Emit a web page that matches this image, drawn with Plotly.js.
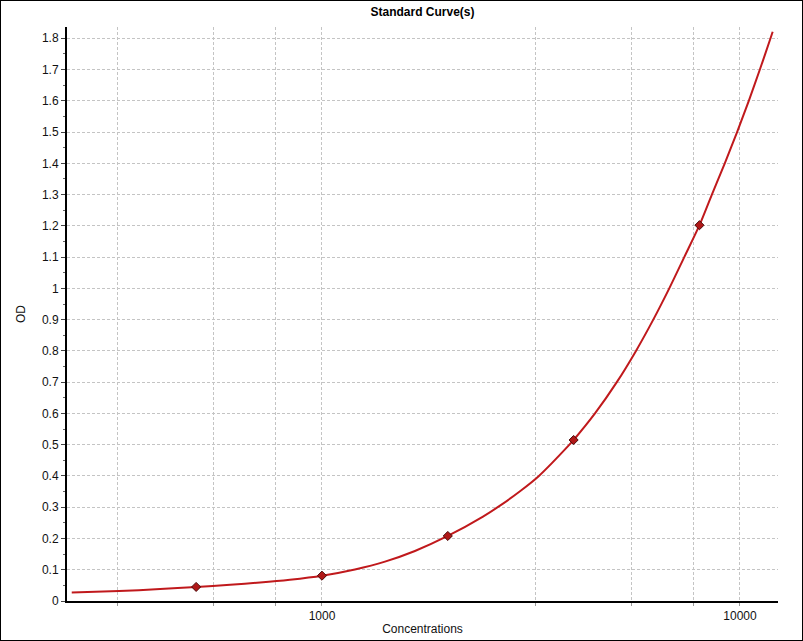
<!DOCTYPE html>
<html>
<head>
<meta charset="utf-8">
<script src="https://cdn.plot.ly/plotly-3.0.1.min.js"></script>
<style>
  html, body { margin: 0; padding: 0; background: #fff; }
  #chart { width: 803px; height: 641px; box-sizing: border-box; border: 1px solid #000; }
</style>
</head>
<body>
<div id="chart"></div>
<script>
/* ── Standard curve ── */

// standards
const stdConc = [500, 1000, 2000, 4000, 8000];
const stdOD   = [0.045, 0.081, 0.208, 0.515, 1.202];

// fitted curve, points
const curveConc = [252, 327, 410, 500, 603, 711, 838, 1000, 1199, 1415,
                   1669, 2000, 2428, 2666, 2977, 3304, 3909, 4000, 4499, 5074, 5639,
                   6203, 6774, 7358, 8000, 8566, 9197, 9842, 10498, 11158, 11832, 11973];
const curveOD   = [0.027, 0.032, 0.038, 0.045, 0.052, 0.059, 0.068, 0.081, 0.101, 0.126,
                   0.160, 0.208, 0.270, 0.305, 0.351, 0.400, 0.500, 0.515, 0.600, 0.700, 0.800,
                   0.900, 1.000, 1.100, 1.202, 1.300, 1.400, 1.500, 1.600, 1.700, 1.800, 1.821];

// x grid positions; only decades carry a label
const xGridVals = [325, 550, 775, 1000, 3250, 5500, 7750, 10000];
const xGridText = ['', '', '', '1000', '', '', '', '10000'];

const FONT = 'Arial, "Liberation Sans", sans-serif';
const GRID = '#c4c4c4';

const traces = [
  {
    x: curveConc,
    y: curveOD,
    mode: 'lines',
    line: { color: '#c0191c', width: 2, shape: 'spline', smoothing: 0.8 },
    hoverinfo: 'skip',
  },
  {
    x: stdConc,
    y: stdOD,
    mode: 'markers',
    marker: { symbol: 'diamond', size: 7, color: '#b01818', line: { color: '#4a0a0a', width: 1 } },
  },
];

const layout = {
  width: 801,
  height: 639,
  paper_bgcolor: '#fff',
  plot_bgcolor: '#fff',
  showlegend: false,
  margin: { t: 26, b: 39, l: 66, r: 24 },
  font: { family: FONT, size: 12, color: '#111' },
  title: {
    text: 'Standard Curve(s)',
    font: { family: FONT, size: 12, color: '#000', weight: 'bold' },
    xref: 'paper', x: 0.5, xanchor: 'center',
    yref: 'container', y: 1 - 11 / 639, yanchor: 'middle',
  },
  xaxis: {
    type: 'log',
    range: [Math.log10(245.5), Math.log10(12330)],
    tickmode: 'array',
    tickvals: xGridVals,
    ticktext: xGridText,
    ticks: 'outside', ticklen: 3, tickcolor: '#999', tickwidth: 1,
    showgrid: true, gridcolor: GRID, griddash: '3px,2px', gridwidth: 1,
    showline: true, linecolor: '#000', linewidth: 2,
    zeroline: false,
    tickfont: { family: FONT, size: 12, color: '#111' },
    title: { text: 'Concentrations', font: { family: FONT, size: 12, color: '#111' }, standoff: 2 },
  },
  yaxis: {
    range: [0, 1.836],
    dtick: 0.1,
    tick0: 0,
    ticks: 'outside', ticklen: 4, tickcolor: '#444', tickwidth: 1,
    minor: { dtick: 0.05, ticks: 'outside', ticklen: 2, tickcolor: '#666', showgrid: false },
    showgrid: true, gridcolor: GRID, griddash: '3px,2px', gridwidth: 1,
    showline: true, linecolor: '#000', linewidth: 2,
    zeroline: false,
    tickfont: { family: FONT, size: 12, color: '#111' },
    title: { text: 'OD', font: { family: FONT, size: 12, color: '#111' }, standoff: 14 },
  },
};

Plotly.newPlot('chart', traces, layout, { displayModeBar: false, staticPlot: true });
</script>
</body>
</html>
